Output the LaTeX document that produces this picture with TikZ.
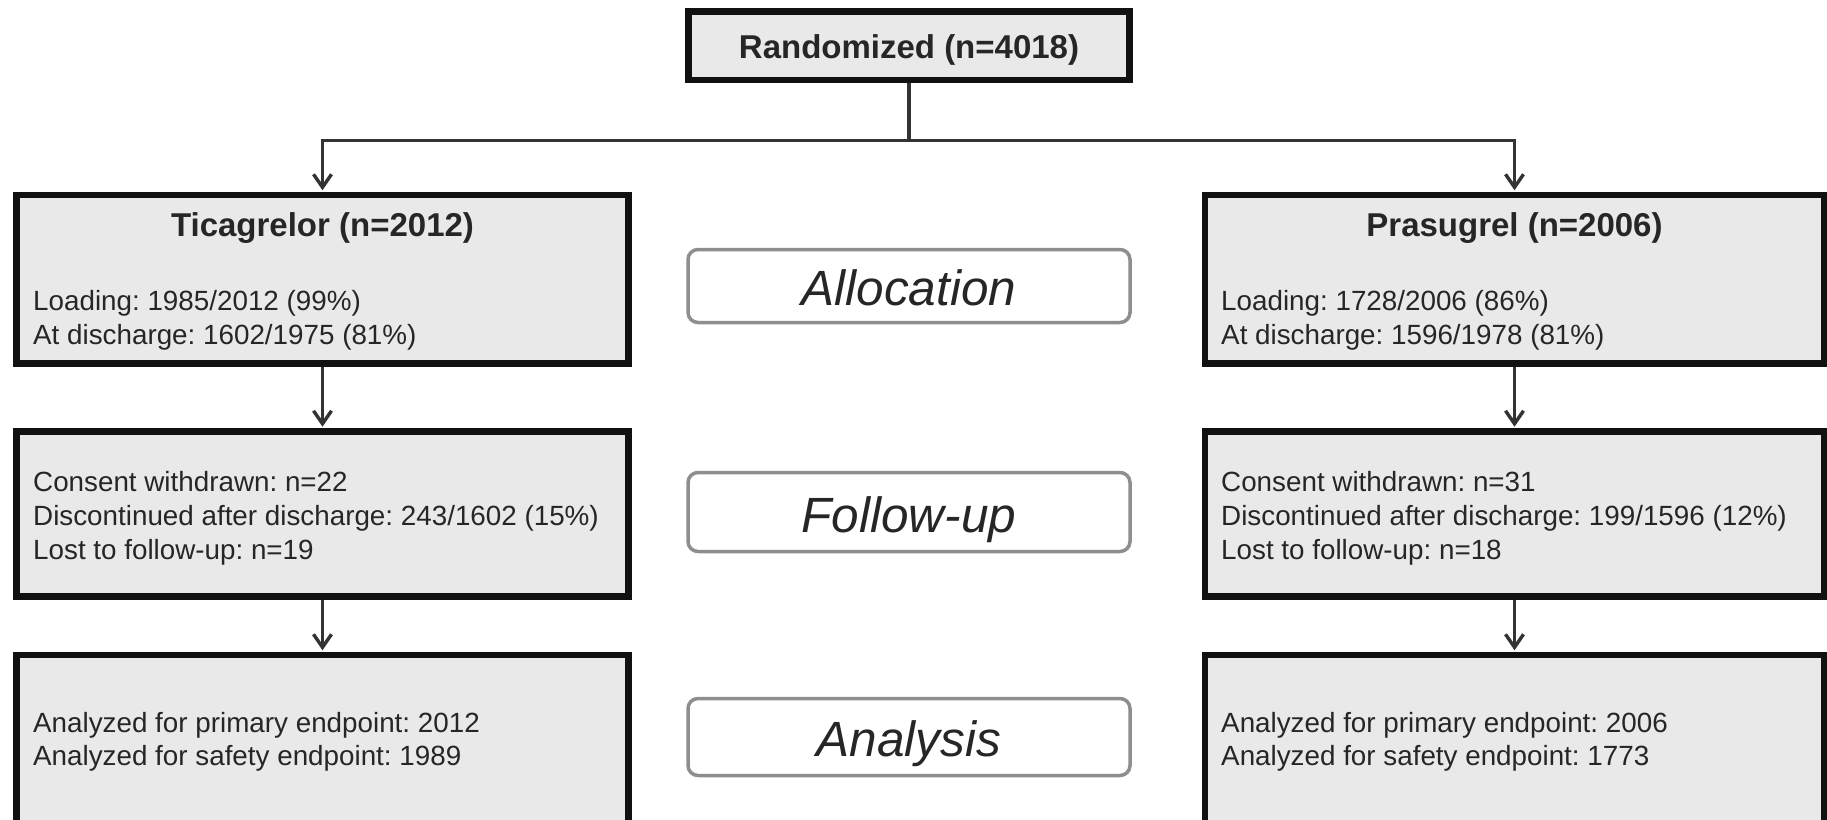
\documentclass[tikz,border=0pt]{standalone}
\usepackage{fontspec}
\setmainfont{Liberation Sans}
\usetikzlibrary{arrows.meta}
\frenchspacing
\definecolor{boxfill}{HTML}{E9E9E9}
\definecolor{boxline}{HTML}{111111}
\definecolor{connline}{HTML}{333333}
\definecolor{phaseline}{HTML}{8E8E8E}
\definecolor{txt}{HTML}{262626}
\tikzset{
  mainbox/.style={draw=boxline, fill=boxfill, line width=6.5pt, rectangle, inner sep=0pt},
  phasebox/.style={draw=phaseline, fill=white, line width=3.5pt, rectangle, rounded corners=10pt, inner sep=0pt,
     minimum width=442pt},
  conn/.style={draw=connline, line width=3.4pt},
  arr/.style={conn, -{Straight Barb[length=13pt,width=18pt]}, shorten >=1.5pt},
  bodytext/.style={anchor=base west, inner sep=0pt, text=txt, font=\fontsize{27.8}{33}\selectfont},
  titletext/.style={anchor=base, inner sep=0pt, text=txt, font=\fontsize{33}{40}\selectfont\bfseries},
  phasetext/.style={anchor=base, inner sep=0pt, text=txt, font=\fontsize{49.5}{58}\selectfont\itshape},
}
\begin{document}
\begin{tikzpicture}[x=1pt,y=-1pt]
\useasboundingbox (0,0) rectangle (1827,819);
\clip (0,0) rectangle (1827,819);
\fill[white] (0,0) rectangle (1827,819);

% top box
\node[mainbox, minimum width=441pt, minimum height=68.5pt] (rand) at (909,45.75) {};
\node[titletext] (randt) at (909,58) {Randomized (n=4018)};

% left column
\node[mainbox, minimum width=612pt, minimum height=168.5pt] (tic) at (322.5,279.25) {};
\node[mainbox, minimum width=612pt, minimum height=165pt] (ticfu) at (322.5,514) {};
\node[mainbox, minimum width=612pt, minimum height=250pt] (tican) at (322.5,780) {};

% right column
\node[mainbox, minimum width=619pt, minimum height=168.5pt] (pra) at (1514.5,279.25) {};
\node[mainbox, minimum width=619pt, minimum height=165pt] (prafu) at (1514.5,514) {};
\node[mainbox, minimum width=619pt, minimum height=250pt] (praan) at (1514.5,780) {};

% phase boxes
\node[phasebox, minimum height=73pt] (alloc) at (909,286) {};
\node[phasetext] (alloct) at (909,305) {Allocation};
\node[phasebox, minimum height=79pt] (fu) at (909,512) {};
\node[phasetext] (fut) at (909,532) {Follow-up};
\node[phasebox, minimum height=77pt] (an) at (909,737) {};
\node[phasetext] (ant) at (909,756) {Analysis};

% texts left
\node[titletext] (tict) at (322.5,236) {Ticagrelor (n=2012)};
\node[bodytext] (tic1) at (33,310) {Loading: 1985/2012 (99\%)};
\node[bodytext] (tic2) at (33,344) {At discharge: 1602/1975 (81\%)};
\node[bodytext] (ticfu1) at (33,491) {Consent withdrawn: n=22};
\node[bodytext] (ticfu2) at (33,525) {Discontinued after discharge: 243/1602 (15\%)};
\node[bodytext] (ticfu3) at (33,559) {Lost to follow-up: n=19};
\node[bodytext] (tican1) at (33,732) {Analyzed for primary endpoint: 2012};
\node[bodytext] (tican2) at (33,765) {Analyzed for safety endpoint: 1989};

% texts right
\node[titletext] (prat) at (1514.5,236) {Prasugrel (n=2006)};
\node[bodytext] (pra1) at (1221,310) {Loading: 1728/2006 (86\%)};
\node[bodytext] (pra2) at (1221,344) {At discharge: 1596/1978 (81\%)};
\node[bodytext] (prafu1) at (1221,491) {Consent withdrawn: n=31};
\node[bodytext] (prafu2) at (1221,525) {Discontinued after discharge: 199/1596 (12\%)};
\node[bodytext] (prafu3) at (1221,559) {Lost to follow-up: n=18};
\node[bodytext] (praan1) at (1221,732) {Analyzed for primary endpoint: 2006};
\node[bodytext] (praan2) at (1221,765) {Analyzed for safety endpoint: 1773};

% connectors
\draw[conn] (rand.south) -- ++(0,57) coordinate (split);
\draw[arr] (split) -| (tic.north);
\draw[arr] (split) -| (pra.north);
\draw[arr] (tic.south) -- (ticfu.north);
\draw[arr] (ticfu.south) -- (tican.north);
\draw[arr] (pra.south) -- (prafu.north);
\draw[arr] (prafu.south) -- (praan.north);
\end{tikzpicture}
\end{document}
